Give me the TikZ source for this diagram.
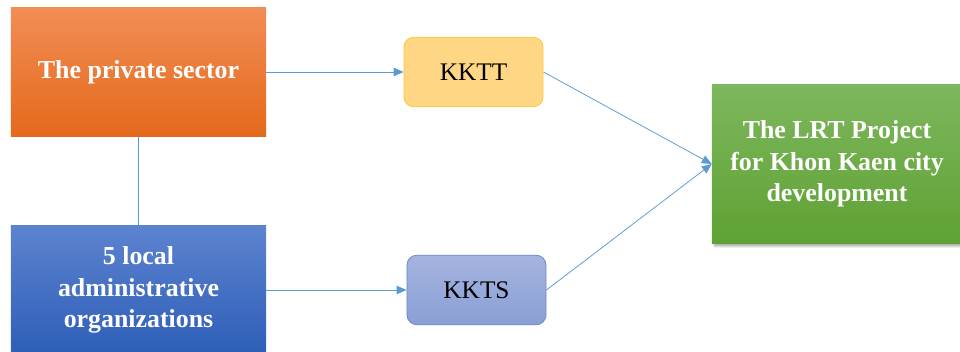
\documentclass[tikz,border=0pt]{standalone}
\usepackage{fontspec}
\setmainfont{Liberation Serif}
\usepackage{xcolor}
\usetikzlibrary{arrows.meta,shadows.blur}
\definecolor{linkblue}{HTML}{5B9BD5}
\definecolor{orangetop}{HTML}{F28D55}
\definecolor{orangebot}{HTML}{E4691B}
\definecolor{bluetop}{HTML}{5C83CF}
\definecolor{bluebot}{HTML}{2E5EB8}
\definecolor{greentop}{HTML}{7EB75D}
\definecolor{greenbot}{HTML}{5EA134}
\definecolor{kkttfill}{HTML}{FFD683}
\definecolor{kkttline}{HTML}{FFC839}
\definecolor{kktstop}{HTML}{A5B4DF}
\definecolor{kktsbot}{HTML}{8A9FD5}
\definecolor{kktsline}{HTML}{6F8ACB}
\tikzset{
	bigbox/.style={
			draw=none, text=white, align=center,
			font=\fontsize{18.4}{22.5}\selectfont\bfseries,
			minimum width=6.375cm, inner sep=2pt
		},
	smallbox/.style={
			rounded corners=0.25cm, line width=0.6pt, align=center,
			font=\fontsize{18}{22}\selectfont,
			minimum width=3.475cm, minimum height=1.74cm
		},
	link/.style={draw=linkblue, line width=0.55pt}
}

\begin{document}
\begin{tikzpicture}[x=0.025cm, y=-0.025cm]
		\useasboundingbox (0,0) rectangle (960,351);

		% the two partners
		\node[bigbox, minimum height=3.2cm, top color=orangetop, bottom color=orangebot]
		(private) at (138.5,72) {The private sector};
		\node[bigbox, minimum height=3.2cm, top color=bluetop, bottom color=bluebot]
		(local) at (138.5,290) {5 local\\administrative\\organizations};

		% the two companies
		\node[smallbox, draw=kkttline, fill=kkttfill] (kktt) at (473.5,72) {KKTT};
		\node[smallbox, draw=kktsline, top color=kktstop, bottom color=kktsbot]
		(kkts) at (476.5,290) {KKTS};

		% the project
		\node[bigbox, minimum width=6.25cm, minimum height=3.95cm,
			top color=greentop, bottom color=greenbot,
			blur shadow={shadow xshift=2pt, shadow yshift=-2pt, shadow blur steps=6}]
		(lrt) at (837,164) {The LRT Project\\for Khon Kaen city\\development};

		% connectors
		\draw[link] (private.south) -- (local.north);
		\draw[link, -{Triangle[length=7pt, width=6pt]}] (private.east) -- (kktt.west);
		\draw[link, -{Triangle[length=7pt, width=6pt]}] (local.east) -- (kkts.west);
		\draw[link, -{Triangle[length=7pt, width=6pt]}] (kktt.east) -- (lrt.west);
		\draw[link, -{Triangle[length=7pt, width=6pt]}] (kkts.east) -- (lrt.west);
	\end{tikzpicture}
\end{document}
